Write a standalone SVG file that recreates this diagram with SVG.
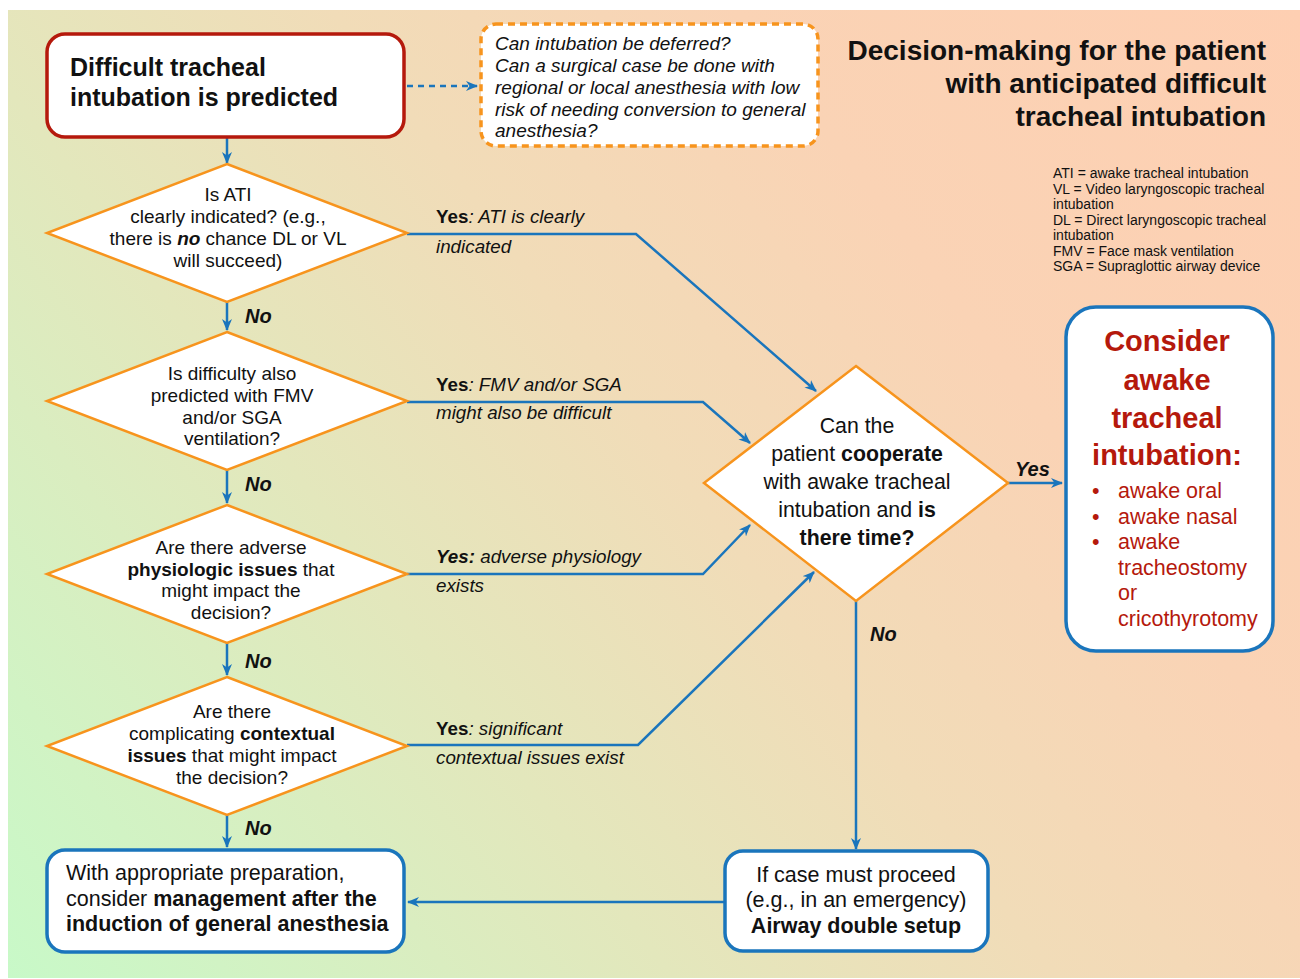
<svg xmlns="http://www.w3.org/2000/svg" width="1300" height="979" viewBox="0 0 1300 979">
<defs>
<linearGradient id="bg" gradientUnits="userSpaceOnUse" x1="8" y1="978" x2="1300" y2="10">
<stop offset="0" stop-color="#c8f9c8"/>
<stop offset="0.33" stop-color="#e3e7bc"/>
<stop offset="0.52" stop-color="#f1dcb8"/>
<stop offset="0.72" stop-color="#fad3b5"/>
<stop offset="1" stop-color="#fecfb2"/>
</linearGradient>
<marker id="ah" viewBox="0 0 12 10" refX="11" refY="5" markerWidth="12" markerHeight="10" markerUnits="userSpaceOnUse" orient="auto">
<path d="M0,0 L12,5 L0,10 L3.5,5 z" fill="#1a75bc"/>
</marker>
</defs>
<style>
text{font-family:"Liberation Sans",Arial,sans-serif;fill:#111;}
.dia{fill:#fff;stroke:#f7941d;stroke-width:2.5;}
.bbox{fill:#fff;stroke:#1a75bc;stroke-width:3.5;}
.con{fill:none;stroke:#1a75bc;stroke-width:2.5;}
.dt{font-size:19px;text-anchor:middle;}
.lbl{font-size:18.8px;font-style:italic;}
.no{font-size:20px;font-weight:bold;font-style:italic;}
.b{font-weight:bold;}
.bi{font-weight:bold;font-style:italic;}
.red{fill:#b5190c;}
</style>
<rect x="8" y="10" width="1292" height="968" fill="url(#bg)"/>

<g id="title">
<text x="1266" y="60" font-size="28" font-weight="bold" text-anchor="end">Decision-making for the patient</text>
<text x="1266" y="93" font-size="28" font-weight="bold" text-anchor="end">with anticipated difficult</text>
<text x="1266" y="126" font-size="28" font-weight="bold" text-anchor="end">tracheal intubation</text>
</g>
<g id="legend" font-size="14">
<text x="1053" y="178">ATI = awake tracheal intubation</text>
<text x="1053" y="193.5">VL = Video laryngoscopic tracheal</text>
<text x="1053" y="209">intubation</text>
<text x="1053" y="224.5">DL = Direct laryngoscopic tracheal</text>
<text x="1053" y="240">intubation</text>
<text x="1053" y="255.5">FMV = Face mask ventilation</text>
<text x="1053" y="271">SGA = Supraglottic airway device</text>
</g>

<g id="connectors">
<path class="con" d="M407,86 L477,86" stroke-dasharray="6,5" marker-end="url(#ah)"/>
<path class="con" d="M227,137 L227,163" marker-end="url(#ah)"/>
<path class="con" d="M227,302 L227,330" marker-end="url(#ah)"/>
<path class="con" d="M227,470 L227,503" marker-end="url(#ah)"/>
<path class="con" d="M227,643 L227,675" marker-end="url(#ah)"/>
<path class="con" d="M227,815 L227,847" marker-end="url(#ah)"/>
<path class="con" d="M407,234 L636,234 L816,391" marker-end="url(#ah)"/>
<path class="con" d="M407,402 L703,402 L750,443" marker-end="url(#ah)"/>
<path class="con" d="M407,574 L703,574 L750,525" marker-end="url(#ah)"/>
<path class="con" d="M407,745 L638,745 L814,572" marker-end="url(#ah)"/>
<path class="con" d="M1008,483 L1062,483" marker-end="url(#ah)"/>
<path class="con" d="M856,601 L856,849" marker-end="url(#ah)"/>
<path class="con" d="M725,902 L408,902" marker-end="url(#ah)"/>
<text class="lbl" x="436" y="223"><tspan font-style="normal" font-weight="bold">Yes</tspan>: ATI is clearly</text>
<text class="lbl" x="436" y="253">indicated</text>
<text class="lbl" x="436" y="391"><tspan font-style="normal" font-weight="bold">Yes</tspan>: FMV and/or SGA</text>
<text class="lbl" x="436" y="419">might also be difficult</text>
<text class="lbl" x="436" y="563"><tspan font-weight="bold">Yes:</tspan> adverse physiology</text>
<text class="lbl" x="436" y="592">exists</text>
<text class="lbl" x="436" y="735"><tspan font-style="normal" font-weight="bold">Yes</tspan>: significant</text>
<text class="lbl" x="436" y="764">contextual issues exist</text>
<text class="no" x="245" y="323">No</text>
<text class="no" x="245" y="491">No</text>
<text class="no" x="245" y="668">No</text>
<text class="no" x="245" y="835">No</text>
<text class="no" x="870" y="641" font-size="19">No</text>
<text class="no" x="1015" y="476" font-size="19">Yes</text>
</g>

<g id="start">
<rect x="47" y="34" width="357" height="103" rx="18" fill="#fff" stroke="#b5190c" stroke-width="3.5"/>
<text x="70" y="76" font-size="25" font-weight="bold">Difficult tracheal</text>
<text x="70" y="106" font-size="25" font-weight="bold">intubation is predicted</text>
</g>

<g id="defer">
<rect x="481" y="24" width="337" height="122" rx="15" fill="#fff" stroke="#f7941d" stroke-width="3.5" stroke-dasharray="7,5"/>
<text x="495" y="50" font-size="19" font-style="italic">Can intubation be deferred?</text>
<text x="495" y="72" font-size="19" font-style="italic">Can a surgical case be done with</text>
<text x="495" y="94" font-size="19" font-style="italic">regional or local anesthesia with low</text>
<text x="495" y="115.5" font-size="19" font-style="italic">risk of needing conversion to general</text>
<text x="495" y="137" font-size="19" font-style="italic">anesthesia?</text>
</g>

<g id="d1">
<polygon class="dia" points="227,164 407,233 227,302 47,233"/>
<text class="dt" x="228" y="201">Is ATI</text>
<text class="dt" x="228" y="223">clearly indicated? (e.g.,</text>
<text class="dt" x="228" y="245">there is <tspan class="bi">no</tspan> chance DL or VL</text>
<text class="dt" x="228" y="267">will succeed)</text>
</g>

<g id="d2">
<polygon class="dia" points="227,332 407,401 227,470 47,401"/>
<text class="dt" x="232" y="380">Is difficulty also</text>
<text class="dt" x="232" y="402">predicted with FMV</text>
<text class="dt" x="232" y="424">and/or SGA</text>
<text class="dt" x="232" y="445">ventilation?</text>
</g>

<g id="d3">
<polygon class="dia" points="227,505 407,574 227,643 47,574"/>
<text class="dt" x="231" y="554">Are there adverse</text>
<text class="dt" x="231" y="576"><tspan class="b">physiologic issues</tspan> that</text>
<text class="dt" x="231" y="597">might impact the</text>
<text class="dt" x="231" y="619">decision?</text>
</g>

<g id="d4">
<polygon class="dia" points="227,677 407,746 227,815 47,746"/>
<text class="dt" x="232" y="718">Are there</text>
<text class="dt" x="232" y="740">complicating <tspan class="b">contextual</tspan></text>
<text class="dt" x="232" y="762"><tspan class="b">issues</tspan> that might impact</text>
<text class="dt" x="232" y="784">the decision?</text>
</g>

<g id="center">
<polygon class="dia" points="856,366 1008,483 856,601 704,483"/>
<text x="857" y="433" font-size="21.3" text-anchor="middle">Can the</text>
<text x="857" y="461" font-size="21.3" text-anchor="middle">patient <tspan class="b">cooperate</tspan></text>
<text x="857" y="489" font-size="21.3" text-anchor="middle">with awake tracheal</text>
<text x="857" y="517" font-size="21.3" text-anchor="middle">intubation and <tspan class="b">is</tspan></text>
<text x="857" y="545" font-size="21.3" text-anchor="middle" font-weight="bold">there time?</text>
</g>

<g id="ati">
<rect class="bbox" x="1066" y="307" width="207" height="344" rx="30"/>
<text class="red" x="1167" y="351" font-size="29" font-weight="bold" text-anchor="middle">Consider</text>
<text class="red" x="1167" y="390" font-size="29" font-weight="bold" text-anchor="middle">awake</text>
<text class="red" x="1167" y="428" font-size="29" font-weight="bold" text-anchor="middle">tracheal</text>
<text class="red" x="1167" y="465" font-size="29" font-weight="bold" text-anchor="middle">intubation:</text>
<g font-size="21.5">
<text class="red" x="1092" y="498">•</text>
<text class="red" x="1118" y="498">awake oral</text>
<text class="red" x="1092" y="524">•</text>
<text class="red" x="1118" y="524">awake nasal</text>
<text class="red" x="1092" y="549">•</text>
<text class="red" x="1118" y="549">awake</text>
<text class="red" x="1118" y="575">tracheostomy</text>
<text class="red" x="1118" y="600">or</text>
<text class="red" x="1118" y="626">cricothyrotomy</text>
</g>
</g>

<g id="general">
<rect class="bbox" x="47" y="850" width="357" height="102" rx="18"/>
<text x="66" y="880" font-size="21.5">With appropriate preparation,</text>
<text x="66" y="906" font-size="21.5">consider <tspan class="b">management after the</tspan></text>
<text x="66" y="931" font-size="21.5" font-weight="bold">induction of general anesthesia</text>
</g>

<g id="double">
<rect class="bbox" x="725" y="851" width="263" height="100" rx="18"/>
<text x="856" y="882" font-size="21.5" text-anchor="middle">If case must proceed</text>
<text x="856" y="907" font-size="21.5" text-anchor="middle">(e.g., in an emergency)</text>
<text x="856" y="933" font-size="21.5" text-anchor="middle" font-weight="bold">Airway double setup</text>
</g>
</svg>
